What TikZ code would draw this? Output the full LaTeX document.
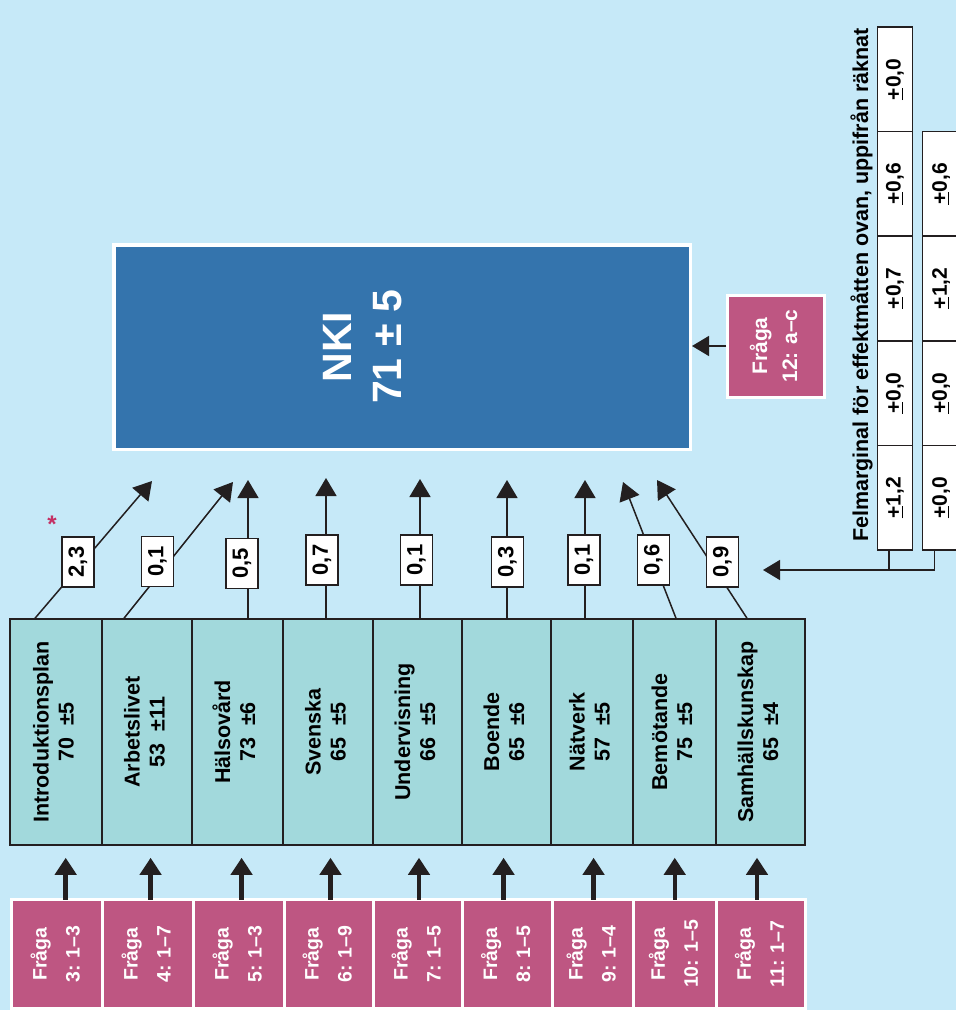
\documentclass[tikz,border=0pt]{standalone}
\usepackage{fontspec}
\setmainfont{Liberation Sans}
\usetikzlibrary{arrows.meta}
\definecolor{bgc}{RGB}{198,233,248}
\definecolor{nkic}{RGB}{52,116,173}
\definecolor{pinkc}{RGB}{190,86,130}
\definecolor{tealc}{RGB}{162,217,220}
\definecolor{darkc}{RGB}{35,31,32}
\definecolor{starc}{RGB}{196,48,100}
\newcommand\rottwo[2]{\rotatebox{90}{\begin{tabular}{@{}c@{}}#1\\#2\end{tabular}}}
\begin{document}
\begin{tikzpicture}[x=1pt,y=-1pt,
  tealbox/.style={draw=darkc, line width=1.5pt, fill=tealc, inner sep=0pt, minimum height=226pt, font=\bfseries\fontsize{21.5}{25}\selectfont},
  pinkbox/.style={draw=white, line width=3pt, fill=pinkc, text=white, inner sep=0pt, font=\bfseries\fontsize{19.5}{33}\selectfont},
  valbox/.style={draw=darkc, line width=1.5pt, fill=white, inner sep=0pt, minimum width=32pt, minimum height=50pt, font=\bfseries\fontsize{22}{26}\selectfont},
  cellbox/.style={draw=darkc, line width=1.5pt, fill=white, inner sep=0pt, minimum height=104.6pt, font=\bfseries\fontsize{21}{24}\selectfont},
  conn/.style={line width=1.5pt, draw=darkc},
  tipA/.style={-{Triangle[width=21pt,length=18pt]}},
  tipB/.style={-{Triangle[width=20pt,length=17pt]}},
  bigarr/.style={line width=4.5pt, draw=darkc, -{Triangle[width=21pt,length=17pt]}},
]
\useasboundingbox (0,0) rectangle (956,1010);
\fill[bgc] (0,0) rectangle (956,1010);
\clip (0,0) rectangle (956,1010);

% teal boxes
\node[tealbox, minimum width=92pt] (t1) at (56,732) {\rottwo{Introduktionsplan}{70~~±5}};
\node[tealbox, minimum width=90pt] (t2) at (147,732) {\rottwo{Arbetslivet}{53~~±11}};
\node[tealbox, minimum width=91pt] (t3) at (237.5,732) {\rottwo{Hälsovård}{73~~±6}};
\node[tealbox, minimum width=90pt] (t4) at (328,732) {\rottwo{Svenska}{65~~±5}};
\node[tealbox, minimum width=89pt] (t5) at (417.5,732) {\rottwo{Undervisning}{66~~±5}};
\node[tealbox, minimum width=89pt] (t6) at (506.5,732) {\rottwo{Boende}{65~~±6}};
\node[tealbox, minimum width=82pt] (t7) at (592,732) {\rottwo{Nätverk}{57~~±5}};
\node[tealbox, minimum width=83pt] (t8) at (674.5,732) {\rottwo{Bemötande}{75~~±5}};
\node[tealbox, minimum width=89pt] (t9) at (760.5,732) {\rottwo{Samhällskunskap}{65~~±4}};

% arrow tips above
\coordinate (e1) at (152,481);
\coordinate (e2) at (233,482);
\coordinate (e3) at (248,480);
\coordinate (e4) at (326,478);
\coordinate (e5) at (420,479);
\coordinate (e6) at (507,480);
\coordinate (e7) at (585,480);
\coordinate (e8) at (623,482);
\coordinate (e9) at (657,480);

% connectors from teal boxes upward
\draw[conn,tipA] ([xshift=-21pt]t1.north) -- (e1);
\draw[conn,tipA] ([xshift=-23pt]t2.north) -- (e2);
\draw[conn,tipA] ([xshift=10.5pt]t3.north) -- (e3);
\draw[conn,tipA] ([xshift=-2pt]t4.north) -- (e4);
\draw[conn,tipA] ([xshift=2.5pt]t5.north) -- (e5);
\draw[conn,tipA] ([xshift=0.5pt]t6.north) -- (e6);
\draw[conn,tipA] ([xshift=-7pt]t7.north) -- (e7);
\draw[conn,tipA] ([xshift=1.5pt]t8.north) -- (e8);
\draw[conn,tipA] ([xshift=-13.5pt]t9.north) -- (e9);

% value boxes
\node[valbox] (v1) at (78,562) {\rotatebox{90}{2,3}};
\node[valbox] (v2) at (157.5,561.5) {\rotatebox{90}{0,1}};
\node[valbox] (v3) at (242,563.5) {\rotatebox{90}{0,5}};
\node[valbox] (v4) at (322,560) {\rotatebox{90}{0,7}};
\node[valbox] (v5) at (416.5,560) {\rotatebox{90}{0,1}};
\node[valbox] (v6) at (507.5,562) {\rotatebox{90}{0,3}};
\node[valbox] (v7) at (584,560) {\rotatebox{90}{0,1}};
\node[valbox] (v8) at (653.5,560) {\rotatebox{90}{0,6}};
\node[valbox] (v9) at (722.5,562) {\rotatebox{90}{0,9}};

% pink question boxes (bottom)
\node[pinkbox, minimum width=91pt, minimum height=109pt] (p1) at (56.5,954) {\rottwo{Fråga}{3: 1–3}};
\node[pinkbox, minimum width=91pt, minimum height=109pt] (p2) at (147.5,954) {\rottwo{Fråga}{4: 1–7}};
\node[pinkbox, minimum width=91pt, minimum height=109pt] (p3) at (238.5,954) {\rottwo{Fråga}{5: 1–3}};
\node[pinkbox, minimum width=89pt, minimum height=109pt] (p4) at (328.5,954) {\rottwo{Fråga}{6: 1–9}};
\node[pinkbox, minimum width=89pt, minimum height=109pt] (p5) at (417.5,954) {\rottwo{Fråga}{7: 1–5}};
\node[pinkbox, minimum width=90pt, minimum height=109pt] (p6) at (507,954) {\rottwo{Fråga}{8: 1–5}};
\node[pinkbox, minimum width=81pt, minimum height=109pt] (p7) at (592.5,954) {\rottwo{Fråga}{9: 1–4}};
\node[pinkbox, minimum width=83.5pt, minimum height=109pt] (p8) at (674.75,954) {\rottwo{Fråga}{10: 1–5}};
\node[pinkbox, minimum width=88.5pt, minimum height=109pt] (p9) at (760.75,954) {\rottwo{Fråga}{11: 1–7}};

% thick arrows pink -> teal
\foreach \i/\s in {1/9.2,2/3.1,3/3.1,4/2,5/1.5,6/-3.4,7/1.1,8/0,9/-3.75}{
  \path ([xshift=\s pt, yshift=-1.5pt]p\i.north) coordinate (a\i);
  \draw[bigarr, shorten >=12pt] (a\i) -- (a\i |- t\i.south);
}

% NKI
\node[draw=white, line width=3.5pt, fill=nkic, minimum width=576.5pt, minimum height=204.5pt, inner sep=0pt, text=white, font=\bfseries\fontsize{41}{50}\selectfont] (nki) at (402,347) {\rottwo{NKI}{71 ± 5}\hspace*{72pt}};

% Fråga 12
\node[pinkbox, minimum width=97pt, minimum height=102pt, font=\bfseries\fontsize{21}{30}\selectfont] (f12) at (776,346) {\rottwo{Fråga}{12: a–c}};
\draw[conn, tipB] (f12.west) -- (f12.west -| nki.east);

% error margin table
\node[cellbox, minimum width=35.4pt] (a1c) at (895,79.3) {\rotatebox{90}{\underline{+}0,0}};
\node[cellbox, minimum width=35.4pt] (a2c) at (895,183.9) {\rotatebox{90}{\underline{+}0,6}};
\node[cellbox, minimum width=35.4pt] (a3c) at (895,288.5) {\rotatebox{90}{\underline{+}0,7}};
\node[cellbox, minimum width=35.4pt] (a4c) at (895,393.1) {\rotatebox{90}{\underline{+}0,0}};
\node[cellbox, minimum width=35.4pt] (a5c) at (895,497.7) {\rotatebox{90}{\underline{+}1,2}};
\node[cellbox, minimum width=37.7pt] (b2c) at (941.15,183.9) {\rotatebox{90}{\underline{+}0,6}};
\node[cellbox, minimum width=37.7pt] (b3c) at (941.15,288.5) {\rotatebox{90}{\underline{+}1,2}};
\node[cellbox, minimum width=37.7pt] (b4c) at (941.15,393.1) {\rotatebox{90}{\underline{+}0,0}};
\node[cellbox, minimum width=37.7pt] (b5c) at (941.15,497.7) {\rotatebox{90}{\underline{+}0,0}};

\node[rotate=90, anchor=base, inner sep=0pt, font=\bfseries\fontsize{21.5}{25}\selectfont] (title) at (868,285) {Felmarginal för effektmåtten ovan, uppifrån räknat};

\coordinate (jt) at (763,570);
\draw[conn] ([xshift=-6pt]a5c.south) -- ++(0,20);
\draw[conn, tipB] ([xshift=-6.8pt]b5c.south) |- (jt);

% asterisk
\node[anchor=base, inner sep=0pt, text=starc, font=\bfseries\fontsize{24}{28}\selectfont] (star) at (52,532) {*};
\end{tikzpicture}
\end{document}
